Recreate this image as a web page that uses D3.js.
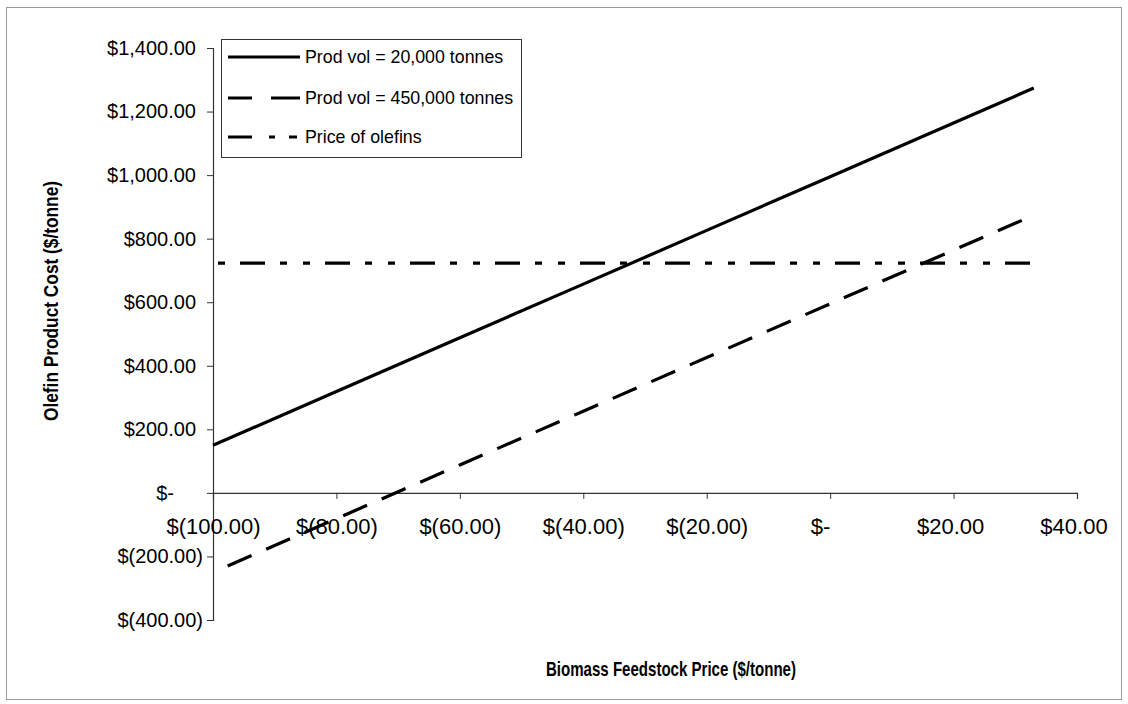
<!DOCTYPE html>
<html>
<head>
<meta charset="utf-8">
<script src="https://cdn.jsdelivr.net/npm/d3@7/dist/d3.min.js"></script>
<style>
  html, body { margin: 0; padding: 0; background: #fff; }
  svg text { font-family: Arial, "Liberation Sans", sans-serif; fill: #000; }
</style>
</head>
<body>
<svg id="chart" width="1128" height="704"></svg>
<script>
// ---- data ----
const feedstockPrice = [-100, -80, -60, -40, -20, 0, 20, 33];
const prodVol20k     = [150, 319, 488, 657, 826, 995, 1164, 1274];
const prodVol450k    = [-250, -81, 88, 257, 426, 595, 764, 874];
const olefinPrice    = [723, 723, 723, 723, 723, 723, 723, 723];

const seriesNames = ["Prod vol = 20,000 tonnes", "Prod vol = 450,000 tonnes", "Price of olefins"];

const xTickValues = [-100, -80, -60, -40, -20, 0, 20, 40];
const xTickLabels = ["$(100.00)", "$(80.00)", "$(60.00)", "$(40.00)", "$(20.00)", "$-", "$20.00", "$40.00"];
const yTickValues = [-400, -200, 0, 200, 400, 600, 800, 1000, 1200, 1400];
const yTickLabels = ["$(400.00)", "$(200.00)", "$-", "$200.00", "$400.00", "$600.00", "$800.00", "$1,000.00", "$1,200.00", "$1,400.00"];

const xTitle = "Biomass Feedstock Price ($/tonne)";
const yTitle = "Olefin Product Cost ($/tonne)";

// ---- layout ----
const svg = d3.select("#chart");
const plot = { left: 213, right: 1077, top: 48, bottom: 620 };
const x = d3.scaleLinear().domain([-100, 40]).range([plot.left, plot.right]);
const y = d3.scaleLinear().domain([-400, 1400]).range([plot.bottom, plot.top]);

// outer frame
svg.append("rect")
  .attr("x", 6.5).attr("y", 7.5).attr("width", 1115).attr("height", 692)
  .attr("fill", "none").attr("stroke", "#9a9a9a").attr("stroke-width", 1);

// y axis
const yAxis = svg.append("g")
  .attr("transform", `translate(${plot.left},0)`)
  .call(d3.axisLeft(y).tickValues(yTickValues).tickSize(6).tickPadding(4)
    .tickFormat((d, i) => yTickLabels[i]));
yAxis.select(".domain").attr("stroke", "#333").attr("stroke-width", 1.2);
yAxis.selectAll(".tick line").attr("stroke", "#333");
yAxis.selectAll(".tick text")
  .attr("font-size", 20)
  .attr("font-family", "Arial, 'Liberation Sans', sans-serif")
  .attr("fill", "#000")
  .attr("dx", d => d > 0 ? -7 : (d === 0 ? -29 : 0));

// x axis at y = 0
const xAxis = svg.append("g")
  .attr("transform", `translate(0,${y(0)})`)
  .call(d3.axisBottom(x).tickValues(xTickValues).tickSize(6).tickPadding(20)
    .tickFormat((d, i) => xTickLabels[i]));
xAxis.select(".domain").attr("stroke", "#333").attr("stroke-width", 1.2);
xAxis.selectAll(".tick line").attr("stroke", "#333");
xAxis.selectAll(".tick text")
  .attr("font-size", 22)
  .attr("font-family", "Arial, 'Liberation Sans', sans-serif")
  .attr("fill", "#000")
  .attr("dx", d => d > 0 ? -3.5 : (d === 0 ? -10 : 0));

// axis titles
svg.append("text")
  .attr("x", 671).attr("y", 676)
  .attr("text-anchor", "middle")
  .attr("font-size", 21).attr("font-weight", "bold")
  .attr("textLength", 250).attr("lengthAdjust", "spacingAndGlyphs")
  .text(xTitle);

svg.append("text")
  .attr("transform", `translate(58,301) rotate(-90)`)
  .attr("text-anchor", "middle")
  .attr("font-size", 21).attr("font-weight", "bold")
  .attr("textLength", 240).attr("lengthAdjust", "spacingAndGlyphs")
  .text(yTitle);

// lines
const styles = [
  { data: prodVol20k, dash: null, offset: 0 },
  { data: prodVol450k, dash: "26,16", offset: 26 },
  { data: olefinPrice, dash: "25,15,7,16,7,15", offset: 58 }
];
const line = d3.line().x(d => x(d[0])).y(d => y(d[1]));
styles.forEach(s => {
  svg.append("path")
    .datum(feedstockPrice.map((fp, i) => [fp, s.data[i]]))
    .attr("d", line)
    .attr("fill", "none")
    .attr("stroke", "#000")
    .attr("stroke-width", 3.2)
    .attr("stroke-dasharray", s.dash)
    .attr("stroke-dashoffset", s.offset);
});

// legend
const lg = svg.append("g");
lg.append("rect")
  .attr("x", 221.5).attr("y", 39.5).attr("width", 300).attr("height", 118)
  .attr("fill", "#fff").attr("stroke", "#333").attr("stroke-width", 1);
const legendRows = [57, 98, 137];
const legendDash = [null, "24,19,30", "24,17,6,14,8"];
seriesNames.forEach((name, i) => {
  lg.append("line")
    .attr("x1", 228).attr("x2", 300)
    .attr("y1", legendRows[i]).attr("y2", legendRows[i])
    .attr("stroke", "#000").attr("stroke-width", 3.2)
    .attr("stroke-dasharray", legendDash[i]);
  lg.append("text")
    .attr("x", 305).attr("y", legendRows[i])
    .attr("dy", "0.35em")
    .attr("font-size", 17.8)
    .text(name);
});
</script>
</body>
</html>
